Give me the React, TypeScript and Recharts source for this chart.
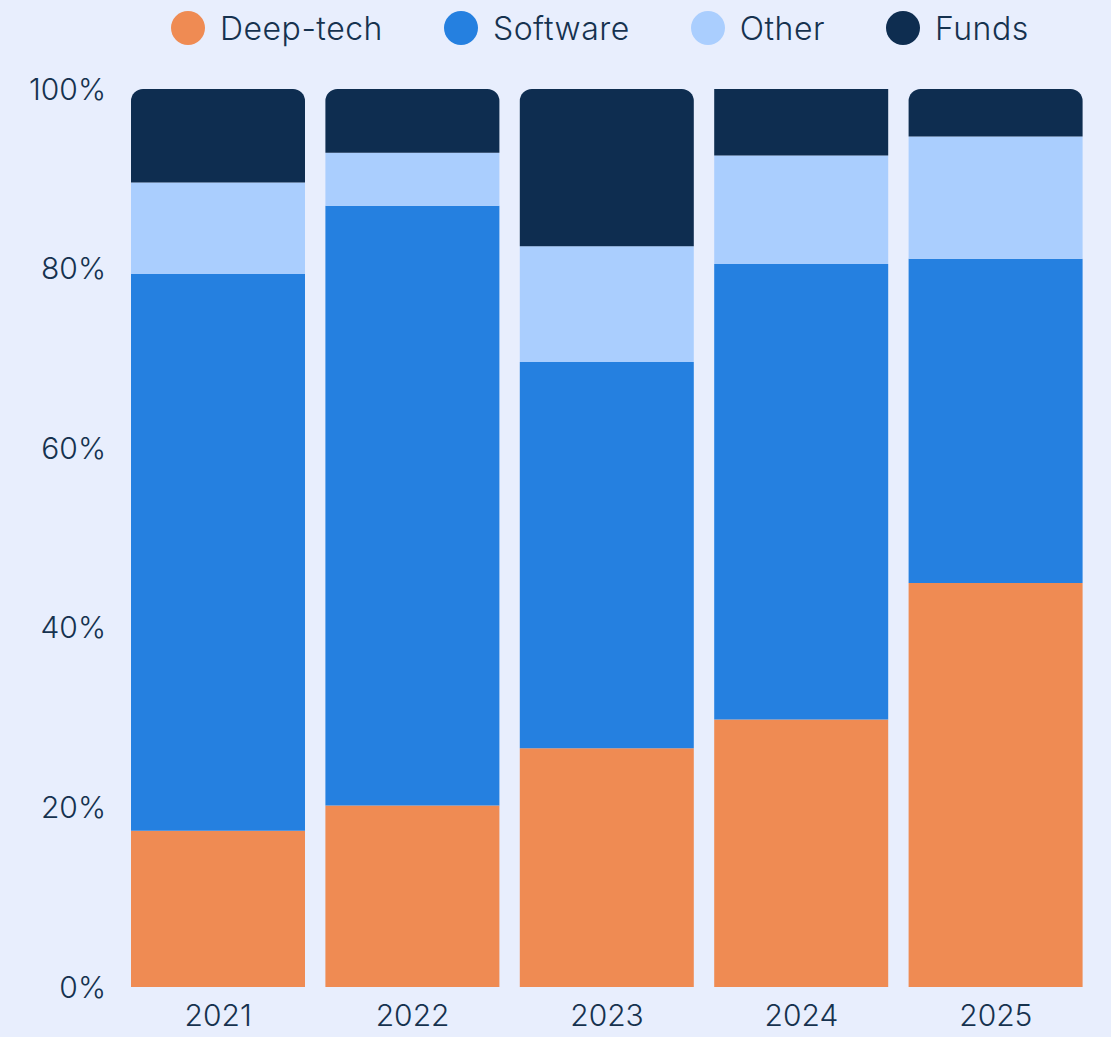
import React from "react"
import { BarChart, Bar, XAxis, YAxis, Legend, Rectangle } from "recharts"

const years = ["2021", "2022", "2023", "2024", "2025"]
const deepTech = [17.4, 20.2, 26.6, 29.8, 45.0]
const software = [62.0, 66.8, 43.0, 50.7, 36.1]
const other = [10.2, 5.9, 12.9, 12.1, 13.6]
const funds = [10.4, 7.1, 17.5, 7.4, 5.3]
const yTicks = [0, 20, 40, 60, 80, 100]

// 2024's top segment is drawn square in the original
const squareTop = ["2024"]

const data = years.map((year, i) => ({
  year,
  deepTech: deepTech[i],
  software: software[i],
  other: other[i],
  funds: funds[i],
}))

const series = [
  { key: "deepTech", name: "Deep-tech", color: "#EF8B53" },
  { key: "software", name: "Software", color: "#2580E0" },
  { key: "other", name: "Other", color: "#AACEFE" },
  { key: "funds", name: "Funds", color: "#0E2D50" },
]

const textColor = "#16324F"
const font = "Inter, 'Noto Sans', sans-serif"

function LegendContent() {
  return (
    <div style={{ display: "flex", alignItems: "center", height: 56, paddingLeft: 171, fontFamily: font, fontSize: 32, fontWeight: 300, letterSpacing: 0.5, color: textColor }}>
      {series.map((s) => (
        <div key={s.key} style={{ display: "flex", alignItems: "center", marginRight: 61 }}>
          <span style={{ width: 34, height: 34, borderRadius: "50%", background: s.color, display: "inline-block", marginRight: 15 }} />
          <span>{s.name}</span>
        </div>
      ))}
    </div>
  )
}

export default function App() {
  return (
    <div style={{ position: "absolute", left: 0, top: 0, width: 1111, height: 1037, background: "#E8EEFD" }}>
      <BarChart
        width={1111}
        height={1037}
        data={data}
        margin={{ top: 33, right: 18, bottom: 0, left: 0 }}
        barCategoryGap={10}
      >
        <Legend verticalAlign="top" content={<LegendContent />} wrapperStyle={{ top: 0, left: 0, width: 1111, height: 56 }} />
        <XAxis
          dataKey="year"
          axisLine={false}
          tickLine={false}
          tickMargin={12}
          height={50}
          tick={{ fill: textColor, fontSize: 30, fontWeight: 300, fontFamily: font }}
        />
        <YAxis
          domain={[0, 100]}
          ticks={yTicks}
          tickFormatter={(v) => `${v}%`}
          axisLine={false}
          tickLine={false}
          tickMargin={9}
          width={121}
          tick={{ fill: textColor, fontSize: 30, fontWeight: 300, fontFamily: font }}
        />
        {series.map((s) => (
          <Bar
            key={s.key}
            dataKey={s.key}
            name={s.name}
            stackId="a"
            fill={s.color}
            isAnimationActive={false}
            shape={
              s.key === "funds"
                ? (props: any) => (
                    <Rectangle {...props} radius={squareTop.includes(props.payload?.year) ? 0 : [12, 12, 0, 0]} />
                  )
                : undefined
            }
          />
        ))}
      </BarChart>
    </div>
  )
}
